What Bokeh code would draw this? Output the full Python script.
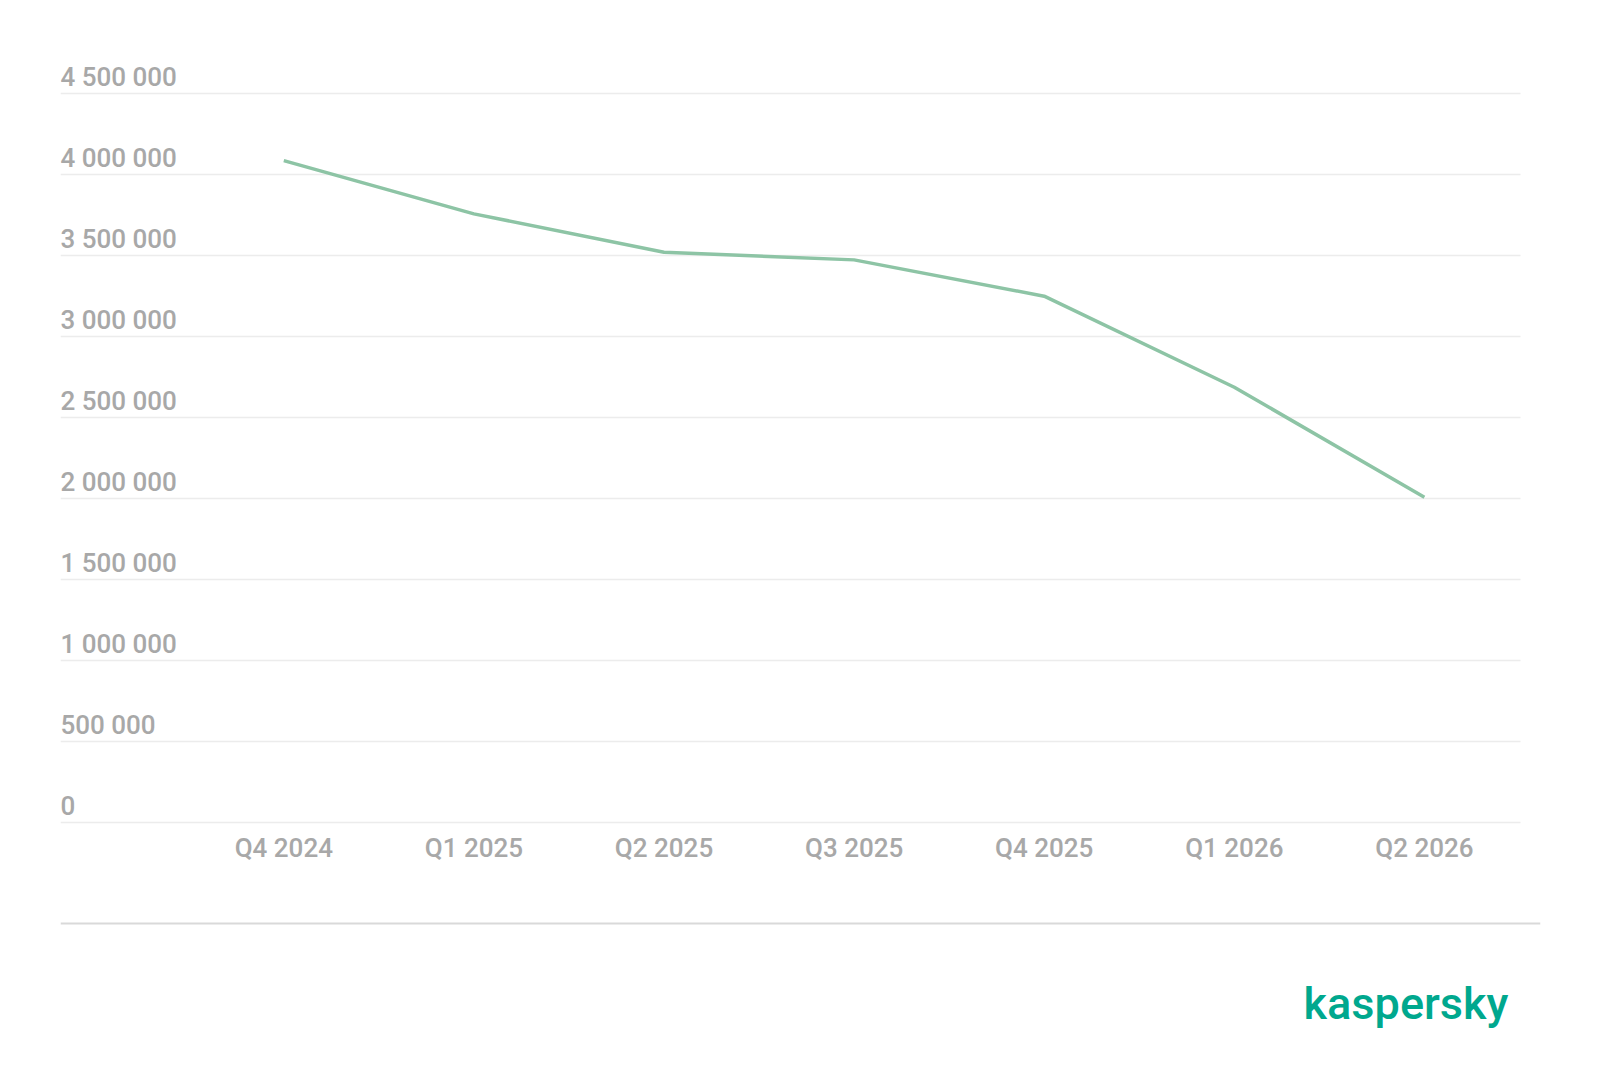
from bokeh.plotting import figure
from bokeh.models import Range1d, Span
from bokeh.core.properties import value
from bokeh.embed import file_html
from bokeh.resources import INLINE

# ---- data ----
quarters = ["Q4 2024", "Q1 2025", "Q2 2025", "Q3 2025", "Q4 2025", "Q1 2026", "Q2 2026"]
counts = [4086000, 3757000, 3520000, 3473000, 3249000, 2687000, 2008000]
y_ticks = [0, 500000, 1000000, 1500000, 2000000, 2500000, 3000000, 3500000, 4000000, 4500000]
y_tick_labels = ["0", "500 000", "1 000 000", "1 500 000", "2 000 000", "2 500 000",
                 "3 000 000", "3 500 000", "4 000 000", "4 500 000"]
brand = "kaspersky"

FONT = "Roboto Medium, Roboto"
GREY = "#a8a8a8"
LINE = "#8dc4a5"
GRID = "#ececec"

W, H = 1584, 1070
L, R, T, B = 60, 1540, 60, 1070          # frame edges in canvas pixels
X0_PX, DX_PX = 283.3, 190.1              # pixel of first category, pixels per category
Y0_PX, DY_PX = 822.0, 162.0e-6           # pixel of zero, pixels per unit value


def px_x(px):
    return (px - X0_PX) / DX_PX


def px_y(py):
    return (Y0_PX - py) / DY_PX


x_idx = list(range(len(quarters)))
x_start, x_end = px_x(L), px_x(R)
y_start, y_end = px_y(B), px_y(T)
grid_end = px_x(1520)

p = figure(width=W, height=H, output_backend="svg", toolbar_location=None,
           x_range=Range1d(x_start, x_end), y_range=Range1d(y_start, y_end),
           min_border_left=L, min_border_right=W - R, min_border_top=T, min_border_bottom=H - B)
p.outline_line_color = None
p.background_fill_color = "white"
p.border_fill_color = "white"
p.grid.visible = False
p.axis.visible = False

# horizontal gridlines
n = len(y_ticks)
p.segment(x0=[x_start] * n, y0=y_ticks, x1=[grid_end] * n, y1=y_ticks,
          line_color=GRID, line_width=1.5)

# y labels sitting above the gridlines, left-aligned at the plot edge
p.text(x=[x_start] * n, y=y_ticks, text=y_tick_labels,
       text_font=value(FONT), text_font_size="26px", text_color=GREY,
       text_align="left", text_baseline="alphabetic", y_offset=-17)

# category labels under the zero line
p.text(x=x_idx, y=[0] * len(quarters), text=quarters,
       text_font=value(FONT), text_font_size="26px", text_color=GREY,
       text_align="center", text_baseline="alphabetic", y_offset=25)

p.line(x_idx, counts, line_color=LINE, line_width=3.5)

# footer: separator and brand
p.add_layout(Span(location=px_y(923), dimension="width", line_color="#d9d9d9", line_width=2))
p.text(x=[px_x(1508)], y=[px_y(1003)], text=[brand], text_font=value(FONT),
       text_font_size="45px", text_color="#00a88e", text_align="right",
       text_baseline="alphabetic")

open("out.html", "w").write(file_html(p, INLINE))
